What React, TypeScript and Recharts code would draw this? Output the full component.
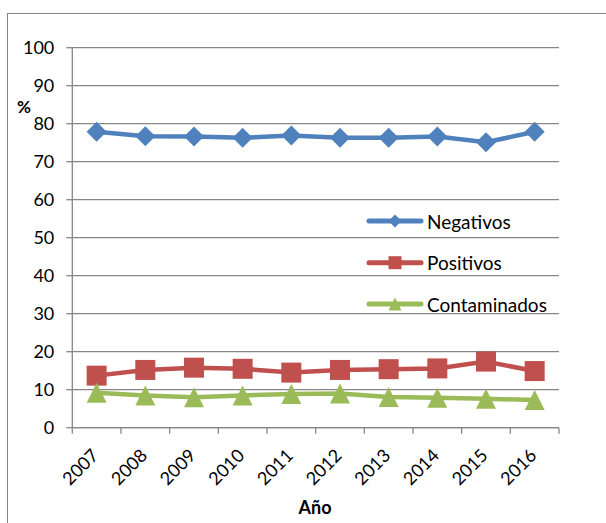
import React from 'react';
import { LineChart, Line, XAxis, YAxis, CartesianGrid } from 'recharts';

// Categories and series values
const years = ['2007', '2008', '2009', '2010', '2011', '2012', '2013', '2014', '2015', '2016'];
const negativos = [77.9, 76.7, 76.6, 76.3, 76.9, 76.3, 76.3, 76.6, 75.1, 77.9];
const positivos = [13.7, 15.2, 15.8, 15.5, 14.5, 15.2, 15.4, 15.6, 17.4, 14.9];
const contaminados = [9.2, 8.5, 8.0, 8.5, 8.9, 9.0, 8.1, 7.9, 7.6, 7.3];
const yTicks = [0, 10, 20, 30, 40, 50, 60, 70, 80, 90, 100];

const data = years.map((year, i) => ({
  year,
  Negativos: negativos[i],
  Positivos: positivos[i],
  Contaminados: contaminados[i],
}));

const W = 606;
const H = 523;
const PLOT_LEFT = 72.3;
const PLOT_RIGHT = 559;
const PLOT_TOP = 47.7;
const PLOT_BOTTOM = 427.7;
const Y_AXIS_W = 65;
const X_AXIS_H = 60;
const AXIS = '#868686';
const FONT = 'Lato, "Liberation Sans", sans-serif';

type Shape = 'diamond' | 'square' | 'triangle';
const series: { key: string; color: string; shape: Shape }[] = [
  { key: 'Negativos', color: '#4F81BD', shape: 'diamond' },
  { key: 'Positivos', color: '#C0504D', shape: 'square' },
  { key: 'Contaminados', color: '#9BBB59', shape: 'triangle' },
];

function Marker({ cx, cy, shape, color, scale = 1 }: { cx: number; cy: number; shape: Shape; color: string; scale?: number }) {
  if (cx == null || cy == null) return null;
  if (shape === 'diamond') {
    const r = 10 * scale;
    return <path d={`M${cx},${cy - r}L${cx + r},${cy}L${cx},${cy + r}L${cx - r},${cy}Z`} fill={color} />;
  }
  if (shape === 'square') {
    const r = 10 * scale;
    return <rect x={cx - r} y={cy - r} width={2 * r} height={2 * r} fill={color} />;
  }
  const w = 10 * scale;
  const h = 10 * scale;
  return <path d={`M${cx},${cy - h}L${cx + w},${cy + h}L${cx - w},${cy + h}Z`} fill={color} />;
}

// Width of one category slot; points sit in the middle of each slot
const band = (PLOT_RIGHT - PLOT_LEFT) / years.length;

function XTick(props: any) {
  const { x, payload, index } = props;
  const y = PLOT_BOTTOM;
  const last = index === years.length - 1;
  const lx = x + 3;
  const ly = y + 29;
  return (
    <g>
      <line x1={x - band / 2} x2={x - band / 2} y1={y} y2={y + 6} stroke={AXIS} strokeWidth={1.3} />
      {last && <line x1={x + band / 2} x2={x + band / 2} y1={y} y2={y + 6} stroke={AXIS} strokeWidth={1.3} />}
      <text
        x={lx}
        y={ly}
        textAnchor="end"
        transform={`rotate(-45, ${lx}, ${ly})`}
        fontFamily={FONT}
        fontSize={18}
        fill="#000"
      >
        {payload.value}
      </text>
    </g>
  );
}

function LegendBox() {
  const rows = [221, 262.7, 304];
  return (
    <svg width={W} height={H} style={{ position: 'absolute', left: 0, top: 0, pointerEvents: 'none' }}>
      {series.map((s, i) => (
        <g key={s.key}>
          <line x1={369} x2={421} y1={rows[i]} y2={rows[i]} stroke={s.color} strokeWidth={5} strokeLinecap="round" />
          <Marker cx={395} cy={rows[i]} shape={s.shape} color={s.color} scale={0.65} />
          <text x={427} y={rows[i]} dominantBaseline="central" fontFamily={FONT} fontSize={19} fill="#000">
            {s.key}
          </text>
        </g>
      ))}
    </svg>
  );
}

export default function App() {
  return (
    <div style={{ position: 'absolute', left: 0, top: 0, width: W, height: H, overflow: 'hidden', background: '#fff' }}>
      <div
        style={{
          position: 'absolute',
          left: 7,
          top: 13,
          width: W,
          height: H,
          border: `1.3px solid ${AXIS}`,
          boxSizing: 'border-box',
        }}
      />
      <LineChart
        width={W}
        height={H}
        data={data}
        margin={{
          top: PLOT_TOP,
          right: W - PLOT_RIGHT,
          left: PLOT_LEFT - Y_AXIS_W,
          bottom: H - PLOT_BOTTOM - X_AXIS_H,
        }}
        style={{ position: 'absolute', left: 0, top: 0 }}
      >
        <CartesianGrid vertical={false} stroke={AXIS} strokeWidth={1.3} />
        <XAxis
          dataKey="year"
          interval={0}
          height={X_AXIS_H}
          padding={{ left: band / 2, right: band / 2 }}
          tickLine={false}
          axisLine={{ stroke: AXIS, strokeWidth: 1.3 }}
          tick={<XTick />}
        />
        <YAxis
          domain={[0, 100]}
          ticks={yTicks}
          width={Y_AXIS_W}
          tickSize={6}
          tickMargin={12}
          tickLine={{ stroke: AXIS, strokeWidth: 1.3 }}
          axisLine={{ stroke: AXIS, strokeWidth: 1.3 }}
          tick={{ fontFamily: FONT, fontSize: 18, fill: '#000' }}
        />
        {series.map((s) => (
          <Line
            key={s.key}
            dataKey={s.key}
            stroke={s.color}
            strokeWidth={4.5}
            isAnimationActive={false}
            dot={(p: any) => <Marker key={`${s.key}-${p.index}`} cx={p.cx} cy={p.cy} shape={s.shape} color={s.color} />}
            activeDot={false}
          />
        ))}
        <text x={24} y={106} textAnchor="middle" dominantBaseline="central" fontFamily={FONT} fontSize={17} fontWeight="bold" fill="#000">
          %
        </text>
        <text x={315} y={507} textAnchor="middle" dominantBaseline="central" fontFamily={FONT} fontSize={18} fontWeight="bold" fill="#000">
          Año
        </text>
      </LineChart>
      <LegendBox />
    </div>
  );
}
